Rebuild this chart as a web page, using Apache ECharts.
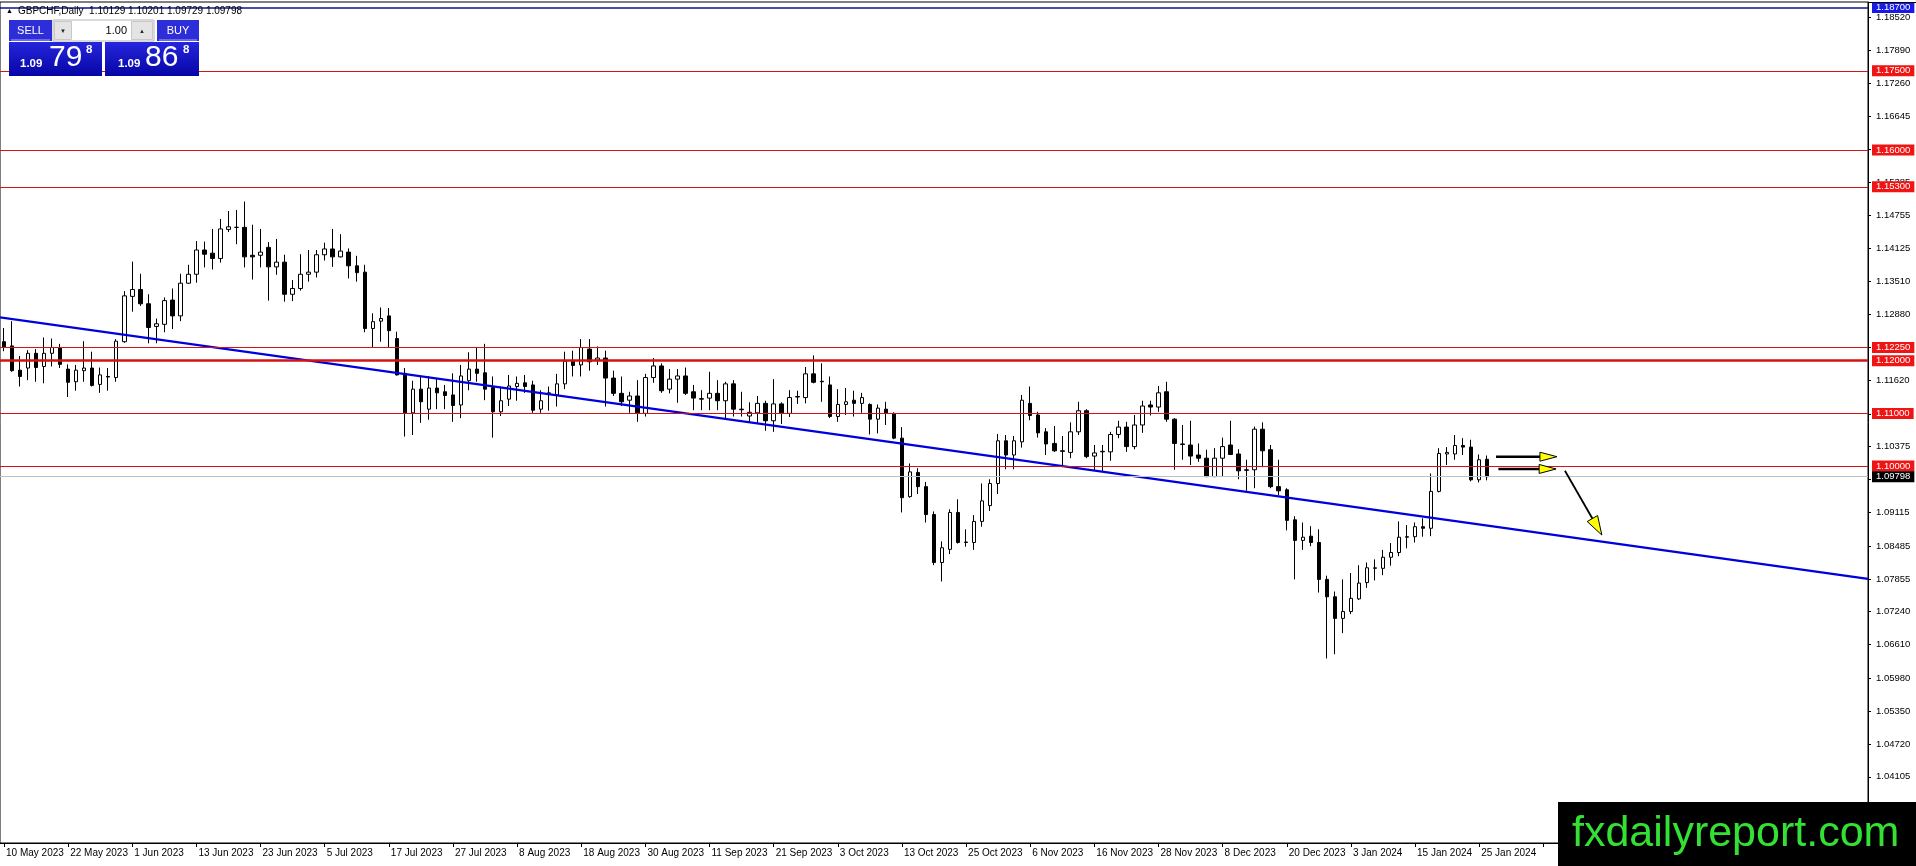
<!DOCTYPE html>
<html>
<head>
<meta charset="utf-8">
<script src="https://cdn.jsdelivr.net/npm/echarts@6.0.0/dist/echarts.min.js"></script>
<style>
html,body{margin:0;padding:0;background:#fff;}
#chart{width:1916px;height:866px;}
</style>
</head>
<body>
<div id="chart"></div>
<script>
// ---------- DATA ----------
const tickLabels = ["10 May 2023","22 May 2023","1 Jun 2023","13 Jun 2023","23 Jun 2023","5 Jul 2023","17 Jul 2023","27 Jul 2023","8 Aug 2023","18 Aug 2023","30 Aug 2023","11 Sep 2023","21 Sep 2023","3 Oct 2023","13 Oct 2023","25 Oct 2023","6 Nov 2023","16 Nov 2023","28 Nov 2023","8 Dec 2023","20 Dec 2023","3 Jan 2024","15 Jan 2024","25 Jan 2024"];
const barsPerLabel = 8;
const totalSlots = 233;

const open = [1.1236,1.1228,1.1182,1.1186,1.1214,1.1189,1.1214,1.1225,1.1184,1.1160,
1.1181,1.1186,1.1155,1.1170,1.1168,1.1236,1.1322,1.1335,1.1308,1.1265,
1.1269,1.1315,1.1285,1.1347,1.1364,1.1410,1.1404,1.1394,1.1449,1.1453,
1.1453,1.1400,1.1400,1.1415,1.1378,1.1387,1.1326,1.1337,1.1364,1.1368,
1.1401,1.1412,1.1397,1.1406,1.1380,1.1368,1.1261,1.1275,1.1285,1.1242,
1.1176,1.1101,1.1146,1.1108,1.1148,1.1141,1.1135,1.1116,1.1162,1.1184,
1.1177,1.1149,1.1103,1.1127,1.1151,1.1158,1.1154,1.1108,1.1138,1.1135,
1.1156,1.1199,1.1192,1.1222,1.1201,1.1205,1.1167,1.1138,1.1125,1.1133,
1.1100,1.1168,1.1190,1.1146,1.1165,1.1171,1.1141,1.1128,1.1129,1.1138,
1.1124,1.1156,1.1108,1.1095,1.1101,1.1119,1.1086,1.1118,1.1100,1.1131,
1.1130,1.1175,1.1161,1.1154,1.1094,1.1117,1.1125,1.1119,1.1117,1.1089,
1.1108,1.1100,1.1053,1.0942,1.0988,1.0961,1.0908,1.0817,1.0842,1.0912,
1.0855,1.0855,1.0895,1.0925,1.0967,1.1048,1.1021,1.1046,1.1119,1.1097,
1.1065,1.1043,1.1029,1.1026,1.1065,1.1105,1.1019,1.1027,1.1027,1.1060,
1.1074,1.1037,1.1078,1.1116,1.1112,1.1141,1.1089,1.1042,1.1040,1.1021,
1.1015,1.0980,1.1015,1.1040,1.1023,1.0993,1.0993,1.1070,1.1031,1.0961,
1.0955,1.0898,1.0859,1.0867,1.0855,1.0785,1.0752,1.0711,1.0724,1.0748,
1.0779,1.0806,1.0806,1.0827,1.0836,1.0865,1.0866,1.0885,1.0882,1.0952,
1.1023,1.1023,1.1039,1.1036,1.0974,1.10129];
const high = [1.1262,1.1275,1.1209,1.1220,1.1222,1.1244,1.1242,1.1232,1.1193,1.1192,
1.1237,1.1217,1.1187,1.1186,1.1241,1.1332,1.1388,1.1365,1.1326,1.1280,
1.1320,1.1337,1.1365,1.1382,1.1427,1.1426,1.1450,1.1469,1.1484,1.1486,
1.1502,1.1458,1.1450,1.1425,1.1431,1.1401,1.1353,1.1402,1.1410,1.1410,
1.1424,1.1450,1.1440,1.1413,1.1399,1.1382,1.1290,1.1301,1.1300,1.1255,
1.1186,1.1162,1.1170,1.1171,1.1167,1.1154,1.1176,1.1192,1.1216,1.1225,
1.1232,1.1170,1.1151,1.1173,1.1170,1.1173,1.1162,1.1144,1.1151,1.1175,
1.1217,1.1219,1.1241,1.1241,1.1227,1.1219,1.1181,1.1170,1.1141,1.1163,
1.1175,1.1205,1.1195,1.1184,1.1184,1.1187,1.1154,1.1144,1.1179,1.1163,
1.1160,1.1163,1.1141,1.1121,1.1133,1.1124,1.1165,1.1121,1.1144,1.1143,
1.1188,1.1210,1.1195,1.1170,1.1146,1.1148,1.1143,1.1139,1.1119,1.1117,
1.1122,1.1102,1.1074,1.1005,1.0996,1.0970,1.0914,1.0857,1.0918,1.0937,
1.0880,1.0907,1.0967,1.0975,1.1061,1.1059,1.1057,1.1135,1.1151,1.1103,
1.1072,1.1076,1.1057,1.1083,1.1122,1.1108,1.1040,1.1040,1.1065,1.1086,
1.1084,1.1097,1.1124,1.1124,1.1152,1.1160,1.1091,1.1078,1.1086,1.1043,
1.1031,1.1034,1.1054,1.1086,1.1032,1.1012,1.1075,1.1083,1.1040,1.1012,
1.0958,1.0905,1.0893,1.0886,1.0880,1.0792,1.0762,1.0785,1.0797,1.0812,
1.0817,1.0823,1.0841,1.0854,1.0895,1.0888,1.0893,1.0901,1.0986,1.1034,
1.1036,1.1059,1.1053,1.1050,1.1022,1.10201];
const low = [1.1218,1.1179,1.1151,1.1163,1.1160,1.1157,1.1189,1.1186,1.1131,1.1143,
1.1160,1.1151,1.1139,1.1143,1.1160,1.1234,1.1293,1.1304,1.1233,1.1233,
1.1254,1.1260,1.1275,1.1346,1.1348,1.1377,1.1373,1.1386,1.1444,1.1421,
1.1377,1.1354,1.1377,1.1314,1.1363,1.1312,1.1313,1.1333,1.1350,1.1358,
1.1390,1.1378,1.1396,1.1356,1.1350,1.1254,1.1225,1.1236,1.1224,1.1172,
1.1056,1.1059,1.1082,1.1088,1.1108,1.1108,1.1084,1.1091,1.1144,1.1160,
1.1125,1.1054,1.1095,1.1114,1.1124,1.1139,1.1101,1.1101,1.1105,1.1113,
1.1146,1.1170,1.1170,1.1181,1.1192,1.1113,1.1133,1.1114,1.1101,1.1084,
1.1094,1.1158,1.1139,1.1138,1.1120,1.1135,1.1106,1.1106,1.1106,1.1106,
1.1091,1.1094,1.1094,1.1083,1.1082,1.1067,1.1065,1.1080,1.1093,1.1118,
1.1119,1.1157,1.1122,1.1091,1.1084,1.1097,1.1094,1.1101,1.1060,1.1062,
1.1078,1.1051,1.0912,1.0940,1.0947,1.0893,1.0812,1.0781,1.0833,1.0853,
1.0847,1.0841,1.0885,1.0915,1.0947,1.0994,1.0994,1.1035,1.1087,1.1054,
1.1021,1.1027,1.0999,1.1015,1.1059,1.1015,1.0991,1.0989,1.1010,1.1053,
1.1027,1.1032,1.1063,1.1096,1.1103,1.1084,1.0993,1.1012,1.1002,1.1008,
1.0979,1.0979,1.0981,1.1021,1.0975,1.0953,1.0958,1.0998,1.0958,1.0945,
1.0878,1.0785,1.0841,1.0848,1.0760,1.0635,1.0643,1.0683,1.0719,1.0746,
1.0769,1.0783,1.0793,1.0811,1.0829,1.0844,1.0855,1.0866,1.0867,1.0950,
1.1002,1.1012,1.1021,1.0971,1.0969,1.09729];
const close = [1.1225,1.1181,1.1170,1.1214,1.1187,1.1214,1.1225,1.1193,1.1159,1.1182,
1.1186,1.1153,1.1173,1.1169,1.1237,1.1323,1.1335,1.1308,1.1263,1.1270,
1.1314,1.1285,1.1347,1.1364,1.1410,1.1402,1.1394,1.1450,1.1454,1.1453,
1.1397,1.1397,1.1406,1.1378,1.1387,1.1326,1.1337,1.1364,1.1368,1.1401,
1.1412,1.1397,1.1408,1.1380,1.1367,1.1261,1.1274,1.1280,1.1257,1.1173,
1.1101,1.1146,1.1122,1.1148,1.1139,1.1134,1.1115,1.1171,1.1184,1.1176,
1.1146,1.1103,1.1124,1.1152,1.1157,1.1151,1.1106,1.1124,1.1139,1.1156,
1.1199,1.1191,1.1225,1.1198,1.1205,1.1167,1.1138,1.1122,1.1133,1.1101,
1.1168,1.1190,1.1143,1.1165,1.1171,1.1138,1.1129,1.1127,1.1138,1.1124,
1.1156,1.1108,1.1107,1.1102,1.1119,1.1086,1.1118,1.1100,1.1130,1.1132,
1.1175,1.1159,1.1160,1.1094,1.1117,1.1122,1.1119,1.1130,1.1089,1.1110,
1.1100,1.1053,1.0940,1.0989,1.0961,1.0908,1.0817,1.0845,1.0912,1.0855,
1.0856,1.0895,1.0934,1.0967,1.1048,1.1021,1.1048,1.1125,1.1096,1.1063,
1.1042,1.1029,1.1028,1.1065,1.1105,1.1018,1.1025,1.1028,1.1060,1.1074,
1.1037,1.1078,1.1114,1.1112,1.1139,1.1089,1.1043,1.1041,1.1019,1.1015,
1.0980,1.1015,1.1037,1.1022,1.0991,1.0992,1.1070,1.1029,1.0961,1.0953,
1.0897,1.0859,1.0865,1.0855,1.0785,1.0752,1.0711,1.0724,1.0749,1.0778,
1.0807,1.0807,1.0827,1.0836,1.0865,1.0866,1.0885,1.0882,1.0952,1.1024,
1.1026,1.1039,1.1036,1.0974,1.1012,1.09798];

const priceTicks = [1.18520,1.17890,1.17260,1.16645,1.16015,1.15385,1.14755,1.14125,1.13510,1.12880,1.12250,1.11620,1.10990,1.10375,1.09745,1.09115,1.08485,1.07855,1.07240,1.06610,1.05980,1.05350,1.04720,1.04105];
const redLevels = [1.17500,1.16000,1.15300,1.12250,1.12000,1.11000,1.10000];
const blueLevel = 1.18700;
const bidLevel = 1.09798;
const trendLine = [[-0.5,1.12823],[232.5,1.07860]];
const arrows = [[186.1,1.10178,193.7,1.10178],[186.4,1.09945,193.6,1.09945],[194.7,1.09912,199.3,1.08692]];
const headerText = "GBPCHF,Daily  1.10129 1.10201 1.09729 1.09798";
const sellPrice = ["1.09","79","8"];
const buyPrice = ["1.09","86","8"];
const lotText = "1.00";
const watermark = "fxdailyreport.com";

// ---------- BUILD ----------
const categories = [];
for (let i = 0; i < totalSlots; i++) categories.push(String(i));
const ohlc = open.map((o, i) => [o, close[i], low[i], high[i]]);

const FONT = 'Tahoma, "Liberation Sans", Arial, sans-serif';

function levelSeries(value, lineColor, lineWidth, labelBg) {
  return {
    type: 'line',
    xAxisIndex: 0,
    yAxisIndex: 0,
    data: [],
    silent: true,
    z: 3,
    markLine: {
      silent: true,
      precision: 5,
      symbol: ['none', 'none'],
      animation: false,
      lineStyle: {color: lineColor, width: lineWidth, type: 'solid', opacity: 1},
      emphasis: {disabled: true},
      label: {show: true, position: 'end', distance: 4, color: '#fff', fontSize: 9.5, fontFamily: FONT,
        padding: [1, 4, 0, 4], lineHeight: 10, backgroundColor: labelBg, formatter: value.toFixed(5)},
      data: [{yAxis: value}]
    }
  };
}

const levelSeriesList = [];
redLevels.forEach(v => levelSeriesList.push(levelSeries(v, '#d41414', v === 1.12 ? 2.5 : 1, '#f01515')));
levelSeriesList.push(levelSeries(blueLevel, '#10108c', 1.5, '#1a1ae6'));
levelSeriesList.push(levelSeries(bidLevel, '#c0c0c0', 1, '#000000'));

const chart = echarts.init(document.getElementById('chart'), null, {renderer: 'canvas'});

const gradBox = {type: 'linear', x: 0, y: 0, x2: 0, y2: 1, colorStops: [{offset: 0, color: '#2626dc'}, {offset: 1, color: '#0505a6'}]};

const option = {
  animation: false,
  backgroundColor: '#ffffff',
  grid: {left: 0, right: 48, top: 2, bottom: 23, show: true, borderColor: '#000', borderWidth: 1, backgroundColor: '#fff'},
  xAxis: [{
    type: 'category',
    data: categories,
    boundaryGap: true,
    axisLine: {show: true, onZero: false, lineStyle: {color: '#000', width: 1}},
    axisTick: {show: true, interval: barsPerLabel - 1, alignWithLabel: true, length: 4, lineStyle: {color: '#000'}},
    axisLabel: {
      interval: barsPerLabel - 1,
      align: 'left',
      margin: 5,
      fontSize: 10,
      fontFamily: FONT,
      color: '#000',
      padding: [0, 0, 0, 2],
      formatter: function (val, idx) {
        const k = idx / barsPerLabel;
        return (idx % barsPerLabel === 0 && k < tickLabels.length) ? tickLabels[k] : '';
      }
    },
    splitLine: {show: false}
  }, {
    type: 'value',
    min: -0.5,
    max: totalSlots - 0.5,
    show: false,
    axisLine: {show: false, onZero: false}
  }],
  yAxis: [{
    type: 'value',
    position: 'right',
    min: 1.02848,
    max: 1.18806,
    axisLine: {show: true, onZero: false, lineStyle: {color: '#000', width: 1}},
    axisTick: {show: true, length: 3, customValues: priceTicks, lineStyle: {color: '#000'}},
    axisLabel: {show: true, customValues: priceTicks, margin: 8, fontSize: 9.5, fontFamily: FONT, color: '#000',
      formatter: v => v.toFixed(5)},
    splitLine: {show: false}
  }],
  series: [{
    type: 'candlestick',
    xAxisIndex: 0,
    yAxisIndex: 0,
    data: ohlc,
    barWidth: 4,
    itemStyle: {color: '#ffffff', color0: '#000000', borderColor: '#000000', borderColor0: '#000000', borderWidth: 1},
    z: 2
  }].concat(levelSeriesList).concat([{
    type: 'line',
    xAxisIndex: 1,
    yAxisIndex: 0,
    data: trendLine,
    symbol: 'none',
    lineStyle: {color: '#0000dc', width: 2.2},
    silent: true,
    z: 4
  }, {
    type: 'custom',
    xAxisIndex: 1,
    yAxisIndex: 0,
    data: arrows,
    encode: {x: [0, 2], y: [1, 3]},
    clip: false,
    silent: true,
    z: 5,
    renderItem: function (params, api) {
      const p1 = api.coord([api.value(0), api.value(1)]);
      const p2 = api.coord([api.value(2), api.value(3)]);
      const dx = p2[0] - p1[0], dy = p2[1] - p1[1];
      const len = Math.sqrt(dx * dx + dy * dy);
      const ux = dx / len, uy = dy / len;
      const diag = Math.abs(uy) > 0.1;
      const hl = diag ? 19 : 17, hw = diag ? 6 : 4.5;
      const bx = p2[0] - ux * hl, by = p2[1] - uy * hl;
      return {
        type: 'group',
        children: [
          {type: 'line', shape: {x1: p1[0], y1: p1[1], x2: bx, y2: by}, style: {stroke: '#000', lineWidth: diag ? 1.8 : 2.6}},
          {type: 'polygon', shape: {points: [[p2[0], p2[1]], [bx - uy * hw, by + ux * hw], [bx + uy * hw, by - ux * hw]]},
            style: {fill: '#ffff00', stroke: '#000', lineWidth: 1}}
        ]
      };
    }
  }]),
  graphic: [
    {type: 'line', shape: {x1: 1868, y1: 2.5, x2: 1916, y2: 2.5}, style: {stroke: '#000', lineWidth: 1}, z: 10},
    {type: 'text', x: 6, y: 11, style: {text: '\u25B2', fontSize: 7, fontFamily: FONT, fill: '#000', verticalAlign: 'middle'}, z: 10},
    {type: 'text', x: 18, y: 11, style: {text: headerText, fontSize: 10, fontFamily: FONT, fill: '#000', verticalAlign: 'middle'}, z: 10},
    {type: 'rect', shape: {x: 9, y: 20, width: 43, height: 21}, style: {fill: '#2e2ed9'}, z: 10},
    {type: 'line', shape: {x1: 11, y1: 40, x2: 50, y2: 40}, style: {stroke: '#a8a8f4', lineWidth: 1}, z: 11},
    {type: 'text', x: 30.5, y: 31, style: {text: 'SELL', fontSize: 11, fontFamily: FONT, fill: '#fff', align: 'center', verticalAlign: 'middle'}, z: 11},
    {type: 'rect', shape: {x: 53, y: 20, width: 101, height: 21}, style: {fill: '#fff', stroke: '#b4b4b4', lineWidth: 1}, z: 10},
    {type: 'rect', shape: {x: 54.5, y: 21.5, width: 17, height: 18}, style: {fill: '#e4e4e4', stroke: '#c8c8c8', lineWidth: 1}, z: 11},
    {type: 'text', x: 63, y: 31, style: {text: '\u25BC', fontSize: 6, fontFamily: FONT, fill: '#222', align: 'center', verticalAlign: 'middle'}, z: 12},
    {type: 'text', x: 127, y: 31, style: {text: lotText, fontSize: 11, fontFamily: FONT, fill: '#000', align: 'right', verticalAlign: 'middle'}, z: 11},
    {type: 'rect', shape: {x: 131.5, y: 21.5, width: 21, height: 18}, style: {fill: '#e4e4e4', stroke: '#c8c8c8', lineWidth: 1}, z: 11},
    {type: 'text', x: 142, y: 31, style: {text: '\u25B2', fontSize: 6, fontFamily: FONT, fill: '#222', align: 'center', verticalAlign: 'middle'}, z: 12},
    {type: 'rect', shape: {x: 157, y: 20, width: 42, height: 21}, style: {fill: '#2e2ed9'}, z: 10},
    {type: 'line', shape: {x1: 159, y1: 40, x2: 197, y2: 40}, style: {stroke: '#a8a8f4', lineWidth: 1}, z: 11},
    {type: 'text', x: 178, y: 31, style: {text: 'BUY', fontSize: 11, fontFamily: FONT, fill: '#fff', align: 'center', verticalAlign: 'middle'}, z: 11},
    {type: 'rect', shape: {x: 9, y: 42, width: 93, height: 34}, style: {fill: gradBox}, z: 10},
    {type: 'rect', shape: {x: 105, y: 42, width: 94, height: 34}, style: {fill: gradBox}, z: 10},
    {type: 'text', x: 20, y: 70, style: {text: sellPrice[0], fontSize: 11.5, fontWeight: 'bold', fontFamily: FONT, fill: '#fff', verticalAlign: 'bottom'}, z: 11},
    {type: 'text', x: 49, y: 73, style: {text: sellPrice[1], fontSize: 30, fontFamily: FONT, fill: '#fff', verticalAlign: 'bottom'}, z: 11},
    {type: 'text', x: 86, y: 56, style: {text: sellPrice[2], fontSize: 11.5, fontWeight: 'bold', fontFamily: FONT, fill: '#fff', verticalAlign: 'bottom'}, z: 11},
    {type: 'text', x: 118, y: 70, style: {text: buyPrice[0], fontSize: 11.5, fontWeight: 'bold', fontFamily: FONT, fill: '#fff', verticalAlign: 'bottom'}, z: 11},
    {type: 'text', x: 145, y: 73, style: {text: buyPrice[1], fontSize: 30, fontFamily: FONT, fill: '#fff', verticalAlign: 'bottom'}, z: 11},
    {type: 'text', x: 183, y: 56, style: {text: buyPrice[2], fontSize: 11.5, fontWeight: 'bold', fontFamily: FONT, fill: '#fff', verticalAlign: 'bottom'}, z: 11},
    {type: 'rect', shape: {x: 1558, y: 802, width: 358, height: 64}, style: {fill: '#000'}, z: 20},
    {type: 'text', x: 1572, y: 834, style: {text: watermark, fontSize: 43, fontFamily: '"Liberation Sans", Arial, sans-serif', fill: '#35e035', verticalAlign: 'middle'}, z: 21}
  ]
};
chart.setOption(option);
</script>
</body>
</html>
